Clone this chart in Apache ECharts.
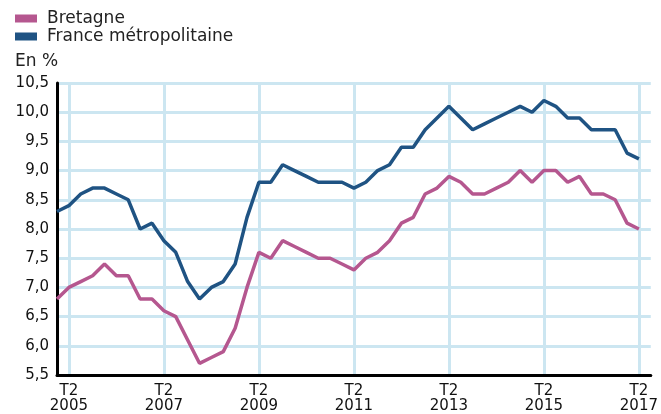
<!DOCTYPE html>
<html>
<head>
<meta charset="utf-8">
<script src="https://cdn.jsdelivr.net/npm/echarts@6/dist/echarts.min.js"></script>
<style>
  html, body { margin: 0; padding: 0; background: #fff; }
  #chart { width: 661px; height: 414px; }
</style>
</head>
<body>
<div id="chart"></div>
<script>
// trimestres de 2005 T1 à 2017 T2, plus un trimestre vide en fin d'axe
const years = [2005, 2006, 2007, 2008, 2009, 2010, 2011, 2012, 2013, 2014, 2015, 2016, 2017];
const quarters = [];
years.forEach(function (y) {
    ['T1', 'T2', 'T3', 'T4'].forEach(function (q) {
        quarters.push(q + ' ' + y);
    });
});
const categories = quarters.slice(0, 51);

// taux de chômage (en %)
const bretagne = [
    6.8, 7.0, 7.1, 7.2, 7.4, 7.2, 7.2, 6.8,
    6.8, 6.6, 6.5, 6.1, 5.7, 5.8, 5.9, 6.3,
    7.0, 7.6, 7.5, 7.8, 7.7, 7.6, 7.5, 7.5,
    7.4, 7.3, 7.5, 7.6, 7.8, 8.1, 8.2, 8.6,
    8.7, 8.9, 8.8, 8.6, 8.6, 8.7, 8.8, 9.0,
    8.8, 9.0, 9.0, 8.8, 8.9, 8.6, 8.6, 8.5,
    8.1, 8.0
];
const france = [
    8.3, 8.4, 8.6, 8.7, 8.7, 8.6, 8.5, 8.0,
    8.1, 7.8, 7.6, 7.1, 6.8, 7.0, 7.1, 7.4,
    8.2, 8.8, 8.8, 9.1, 9.0, 8.9, 8.8, 8.8,
    8.8, 8.7, 8.8, 9.0, 9.1, 9.4, 9.4, 9.7,
    9.9, 10.1, 9.9, 9.7, 9.8, 9.9, 10.0, 10.1,
    10.0, 10.2, 10.1, 9.9, 9.9, 9.7, 9.7, 9.7,
    9.3, 9.2
];

const FONT = 'DejaVu Sans';
const gridColor = '#cce6f1';

const chart = echarts.init(document.getElementById('chart'));

// une ligne verticale et un libellé tous les 2 ans, au T2
const isT2 = function (index) { return index % 8 === 1; };

chart.setOption({
    animation: false,
    textStyle: { fontFamily: FONT },
    title: {
        text: 'En %',
        left: 15,
        top: 53,
        padding: 0,
        textStyle: { fontFamily: FONT, fontSize: 17, fontWeight: 'normal', color: '#222' }
    },
    legend: {
        orient: 'vertical',
        left: 15,
        top: 10,
        padding: 0,
        itemWidth: 22,
        itemHeight: 8,
        itemGap: 1,
        icon: 'rect',
        data: ['Bretagne', 'France métropolitaine'],
        textStyle: {
            fontFamily: FONT, fontSize: 17, color: '#222',
            lineHeight: 16, padding: [0, 0, 0, 5]
        }
    },
    grid: { left: 57, right: 10, top: 83, bottom: 37 },
    xAxis: {
        type: 'category',
        data: categories,
        boundaryGap: false,
        axisLine: { lineStyle: { color: '#000', width: 3 } },
        axisTick: { show: false },
        splitLine: { show: true, interval: isT2, lineStyle: { color: gridColor, width: 3 } },
        axisLabel: {
            interval: isT2,
            margin: 9,
            color: '#111',
            fontSize: 15,
            lineHeight: 15,
            formatter: function (value) {
                const parts = value.split(' ');
                return parts[0] + '\n' + parts[1];
            }
        }
    },
    yAxis: {
        type: 'value',
        min: 5.5,
        max: 10.5,
        interval: 0.5,
        axisLine: { show: true, lineStyle: { color: '#000', width: 3 } },
        axisTick: { show: false },
        splitLine: { lineStyle: { color: gridColor, width: 3 } },
        axisLabel: {
            margin: 8,
            color: '#111',
            fontSize: 15,
            formatter: function (v) { return v.toFixed(1).replace('.', ','); }
        }
    },
    series: [
        {
            name: 'Bretagne',
            type: 'line',
            data: bretagne,
            symbol: 'none',
            itemStyle: { color: '#b5578f' },
            lineStyle: { color: '#b5578f', width: 3.5 }
        },
        {
            name: 'France métropolitaine',
            type: 'line',
            data: france,
            symbol: 'none',
            itemStyle: { color: '#1f5383' },
            lineStyle: { color: '#1f5383', width: 3.5 }
        }
    ]
});
</script>
</body>
</html>
